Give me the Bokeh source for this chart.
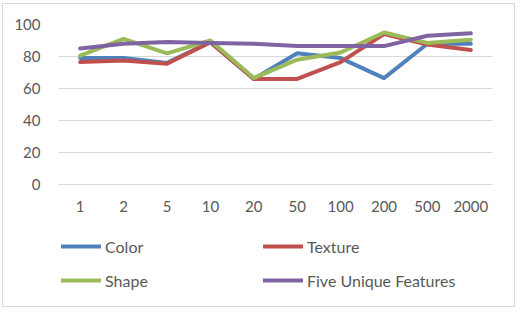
from bokeh.plotting import figure
from bokeh.models import FactorRange, Range1d, Legend, LegendItem, FixedTicker
from bokeh.layouts import column
from bokeh.embed import file_html
from bokeh.resources import INLINE

categories = ["1", "2", "5", "10", "20", "50", "100", "200", "500", "2000"]
color_vals = [79, 79, 76, 89, 66, 82, 79, 66.5, 88, 88]
texture_vals = [76.5, 77.5, 75.5, 89, 66, 66, 76.5, 94, 87.5, 84]
shape_vals = [80.5, 91, 82, 90, 66.5, 78, 82.5, 95, 88.5, 90.5]
five_vals = [85, 88, 89, 88.5, 88, 86.5, 86.5, 86.5, 93, 94.5]
y_ticks = [0, 20, 40, 60, 80, 100]

series = [
    ("Color", color_vals, "#4F81BD"),
    ("Texture", texture_vals, "#C0504D"),
    ("Shape", shape_vals, "#9BBB59"),
    ("Five Unique Features", five_vals, "#8064A2"),
]

FONT = "Lato"
TXT = "#595959"

p = figure(width=511, height=221, x_range=FactorRange(*categories, range_padding=0),
           y_range=Range1d(0, 100), output_backend="svg", toolbar_location=None,
           min_border_left=55, min_border_right=22, min_border_top=20, min_border_bottom=41)
p.outline_line_color = None
p.background_fill_color = "white"
p.border_fill_color = "white"

p.xgrid.grid_line_color = None
p.ygrid.grid_line_color = "#D9D9D9"
p.ygrid.grid_line_width = 1

p.yaxis.ticker = FixedTicker(ticks=y_ticks)
p.yaxis.axis_line_color = None
p.yaxis.major_tick_line_color = None
p.yaxis.minor_tick_line_color = None
p.yaxis.major_tick_out = 0
p.yaxis.major_label_standoff = 18
p.xaxis.axis_line_color = "#D9D9D9"
p.xaxis.major_tick_line_color = None
p.xaxis.minor_tick_line_color = None
p.xaxis.major_tick_out = 0
p.xaxis.major_label_standoff = 16
for ax in (p.xaxis, p.yaxis):
    ax.major_label_text_font = FONT
    ax.major_label_text_font_size = "15px"
    ax.major_label_text_color = TXT

for name, vals, col in series:
    p.line(categories, vals, line_color=col, line_width=4, line_join="round", line_cap="round")

# legend panel below the chart (its frame is aligned with the chart's frame)
p2 = figure(width=511, height=81, output_backend="svg", toolbar_location=None,
            x_axis_location=None, y_axis_location=None,
            min_border_left=55, min_border_right=0, min_border_top=0, min_border_bottom=0)
p2.outline_line_color = None
p2.grid.visible = False
items = []
for name, vals, col in series:
    r = p2.line(x=[float("nan")], y=[float("nan")], line_color=col, line_width=4, line_cap="round")
    items.append(LegendItem(label=name, renderers=[r]))

legend = Legend(items=items, orientation="horizontal", ncols=2, location=(3, 9),
                glyph_width=40, glyph_height=34, label_height=34, label_width=158,
                label_standoff=4, spacing=0, padding=0, margin=0,
                label_text_font=FONT, label_text_font_size="16px", label_text_color=TXT,
                border_line_color=None, background_fill_alpha=0)
p2.add_layout(legend, "center")

layout = column(p, p2, spacing=0,
                styles={"border": "1px solid #D9D9D9", "margin-left": "2px", "margin-top": "3px"})

open("out.html", "w").write(file_html(layout, INLINE))
